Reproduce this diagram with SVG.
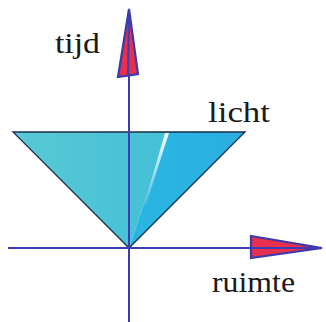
<svg xmlns="http://www.w3.org/2000/svg" width="326" height="322" viewBox="0 0 326 322">
<style>
.axis{stroke:#3c3cb4;stroke-width:2;fill:none}
.arrow{fill:#e6304e;stroke:#3a3aac;stroke-width:2.2;stroke-linejoin:miter}
.lbl{font-family:"Liberation Serif","Times New Roman",serif;font-size:30px;fill:#1a1a1a}
</style>
<defs>
<linearGradient id="gl" x1="13" y1="0" x2="167" y2="0" gradientUnits="userSpaceOnUse">
<stop offset="0" stop-color="#5ac9d4"/>
<stop offset="1" stop-color="#44c0d8"/>
</linearGradient>
<linearGradient id="gr" x1="167" y1="0" x2="245" y2="0" gradientUnits="userSpaceOnUse">
<stop offset="0" stop-color="#2ab4e2"/>
<stop offset="1" stop-color="#2aaee0"/>
</linearGradient>
<linearGradient id="gs" x1="0" y1="133" x2="0" y2="215" gradientUnits="userSpaceOnUse">
<stop offset="0" stop-color="#ffffff" stop-opacity="0.95"/>
<stop offset="1" stop-color="#ffffff" stop-opacity="0"/>
</linearGradient>
</defs>
<g id="lightcone">
<polygon points="13,132 168,132 129,248" fill="url(#gl)"/>
<polygon points="168,132 245,132 129,248" fill="url(#gr)"/>
<polygon points="165,133 169,133 146,205 144,205" fill="url(#gs)"/>
<polygon points="13,132 245,132 129,248" fill="none" stroke="#1c2c4a" stroke-width="1.3" stroke-linejoin="miter"/>
</g>
<g id="connectors">
<line class="axis" x1="129" y1="76" x2="129" y2="322"/>
<line class="axis" x1="129" y1="9" x2="129" y2="132"/>
<line class="axis" x1="8" y1="248" x2="252" y2="248"/>
</g>
<g id="time-axis">
<polygon class="arrow" points="129,9 138,74 118,77"/>
<line class="axis" x1="129" y1="9" x2="128" y2="76"/>
</g>
<g id="space-axis">
<polygon class="arrow" points="322,248 251,258 251,236"/>
<line class="axis" x1="251" y1="248" x2="322" y2="248"/>
</g>
<g id="labels">
<text class="lbl" x="55" y="53" textLength="45" lengthAdjust="spacingAndGlyphs">tijd</text>
<text class="lbl" x="208" y="122" textLength="62" lengthAdjust="spacingAndGlyphs">licht</text>
<text class="lbl" x="212" y="292" textLength="83" lengthAdjust="spacingAndGlyphs">ruimte</text>
</g>
</svg>
